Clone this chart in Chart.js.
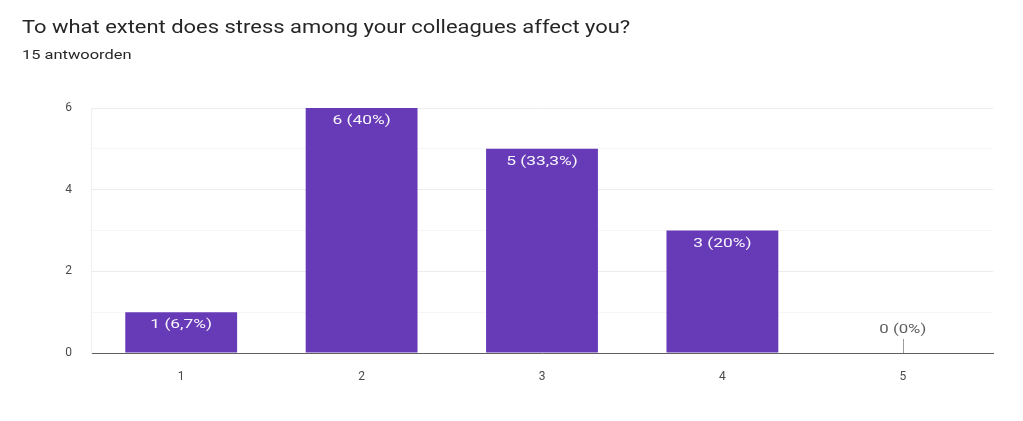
<!DOCTYPE html>
<html>
<head>
<meta charset="utf-8">
<script src="https://cdn.jsdelivr.net/npm/chart.js@4/dist/chart.umd.min.js"></script>
<style>
  html, body { margin: 0; padding: 0; background: #fff; }
  #wrap { position: relative; width: 1023px; height: 421px; }
  .kop { position: absolute; left: 22px; white-space: nowrap; transform-origin: left center;
         font-family: Roboto, Arial, sans-serif; color: #262626; }
  #titel { top: 16px; font-size: 19px; line-height: 22px; transform: scaleX(1.155); }
  #ondertitel { top: 48px; font-size: 12px; line-height: 14px; transform: scaleX(1.37); }
</style>
</head>
<body>
<div id="wrap">
  <div id="titel" class="kop"></div>
  <div id="ondertitel" class="kop"></div>
  <canvas id="stressChart"></canvas>
</div>
<script>
// Gegevens uit het formulier
const categories = ['1', '2', '3', '4', '5'];
const answerCounts = [1, 6, 5, 3, 0];
const percentLabels = ['6,7%', '40%', '33,3%', '20%', '0%'];
const yTicks = [0, 2, 4, 6];

const chartTitle = 'To what extent does stress among your colleagues affect you?';
const chartSubtitle = '15 antwoorden';

document.getElementById('titel').textContent = chartTitle;
document.getElementById('ondertitel').textContent = chartSubtitle;

// Plugin voor de labels in de balken (tekst iets breder getrokken, zoals in het origineel)
const barLabels = {
    id: 'barLabels',
    afterDatasetsDraw(chart) {
        const ctx = chart.ctx;
        const meta = chart.getDatasetMeta(0);
        meta.data.forEach((bar, i) => {
            const text = answerCounts[i] + ' (' + percentLabels[i] + ')';
            ctx.save();
            ctx.font = '12px Roboto, Arial, sans-serif';
            ctx.textAlign = 'center';
            ctx.textBaseline = 'middle';
            if (answerCounts[i] > 0) {
                ctx.translate(bar.x, bar.y + 13);
                ctx.scale(1.45, 1);
                ctx.fillStyle = 'rgba(255,255,255,0.95)';
                ctx.fillText(text, 0, 0);
            } else {
                // lege balk: klein streepje met label erboven
                ctx.strokeStyle = '#9e9e9e';
                ctx.lineWidth = 1;
                ctx.beginPath();
                ctx.moveTo(Math.round(bar.x) + 0.5, bar.y);
                ctx.lineTo(Math.round(bar.x) + 0.5, bar.y - 14);
                ctx.stroke();
                ctx.translate(bar.x, bar.y - 23);
                ctx.scale(1.4, 1);
                ctx.fillStyle = '#5f5f5f';
                ctx.fillText(text, 0, 0);
            }
            ctx.restore();
        });
    }
};

const ctx = document.getElementById('stressChart').getContext('2d');
const stressChart = new Chart(ctx, {
    type: 'bar',
    data: {
        labels: categories,
        datasets: [{
            data: answerCounts,
            backgroundColor: '#673ab7',
            borderWidth: 0,
            categoryPercentage: 1,
            barPercentage: 0.62
        }]
    },
    options: {
        responsive: true,
        maintainAspectRatio: false,
        animation: false,
        layout: { padding: { left: 22, right: 30, top: 108, bottom: 0 } },
        plugins: {
            legend: { display: false },
            tooltip: { enabled: false }
        },
        scales: {
            x: {
                grid: { display: false },
                border: { color: '#5f5f5f', width: 1 },
                ticks: {
                    color: '#4a4a4a',
                    padding: 9,
                    font: { family: 'Roboto, Arial, sans-serif', size: 12 }
                },
                afterFit(scale) { scale.height = 68; }
            },
            y: {
                min: 0,
                max: 6,
                border: { display: true, color: '#efefef' },
                grid: {
                    drawTicks: false,
                    color: (c) => {
                        if (c.tick.value === 0) return 'rgba(0,0,0,0)';
                        return yTicks.includes(c.tick.value) ? '#ececec' : '#f6f6f6';
                    }
                },
                ticks: {
                    stepSize: 1,
                    color: '#4a4a4a',
                    padding: 19,
                    font: { family: 'Roboto, Arial, sans-serif', size: 12 },
                    callback: (v) => yTicks.includes(v) ? String(v) : ''
                },
                afterFit(scale) { scale.width = 69; }
            }
        }
    },
    plugins: [barLabels]
});
</script>
</body>
</html>
